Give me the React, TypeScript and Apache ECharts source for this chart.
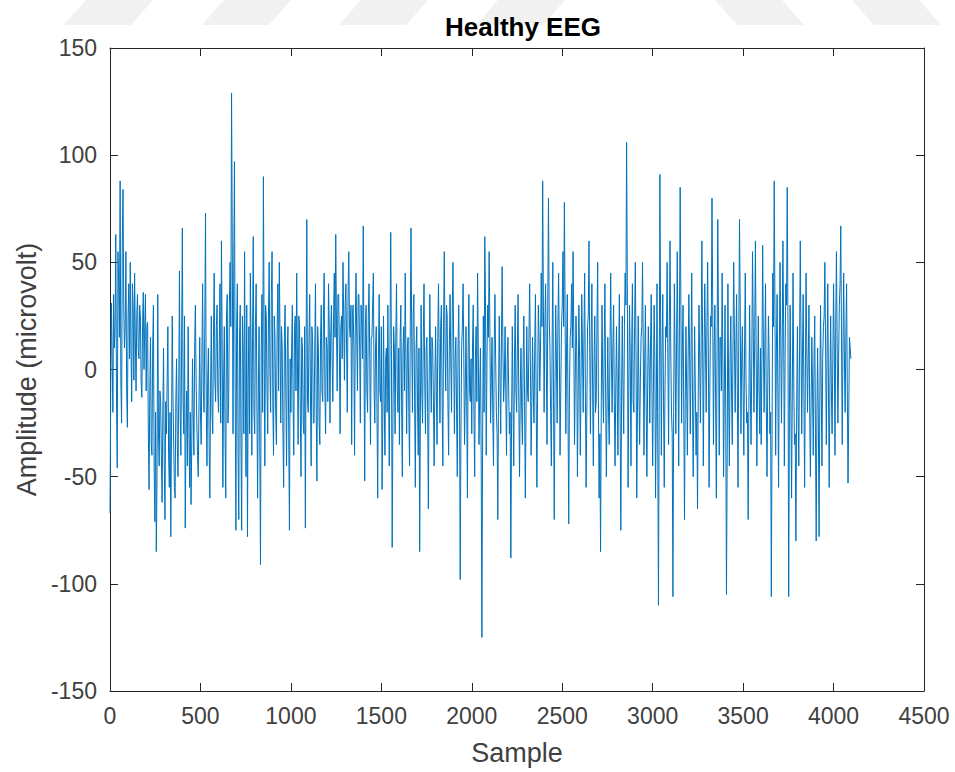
import React, { useEffect, useRef } from "react";
import * as echarts from "echarts";

const SAMPLE_STEP = 8;
const MID_OFFSET = 4;
const X_TICKS = [0, 500, 1000, 1500, 2000, 2500, 3000, 3500, 4000, 4500];
const Y_TICKS = [-150, -100, -50, 0, 50, 100, 150];

// Amplitude (microvolt) at samples 0, 8, 16, ...
const amplitude: number[] = [
  -67, 31, -20, 10, 63, -46, 40, 88, -25, 84, 10, 55, -27, 40, 50, -15, 30, 45, -10, 35, 5, 25, -13, 36, 20,
  -10, 22, -56, 15, -40, 30, -71, -85, 35, -45, -15, -62, 10, -70, -30, 20, -55, -78, 25, -35, -60, 5, -50, 46, -40,
  66, -30, -74, -10, 20, -55, -63, 5, -40, 30, -25, -50, 15, -35, 40, -20, 73, -45, 10, -60, 25, -30, 45, -15, 30,
  -20, 40, 60, -55, 20, -60, 35, -15, 50, 129, -30, 97, -75, 40, -70, 30, -75, 10, 55, -50, -78, 20, 45, -40, 62,
  -30, 40, -60, 20, -91, 35, 90, -45, 25, -30, 50, -20, 55, -40, 15, -35, 40, 50, -25, 10, -55, 30, -45, 20, -75,
  -20, 30, -40, 25, 45, -35, 20, -50, 10, -30, -74, 70, -20, 35, -45, 15, -25, 40, -52, 10, -35, 30, -15, 45, -30,
  10, 40, -25, 30, -15, 45, 63, -10, 35, -30, 25, 50, -5, 40, -20, 55, 15, -35, 30, -40, 45, -10, 35, -25, 20,
  67, -52, 30, -20, 40, -35, 15, 45, -25, 20, -60, 35, -15, -56, 25, -40, 10, 30, -45, 64, -83, 20, -30, 40, -20,
  -35, 30, -50, 20, 45, -30, 15, -45, 66, -20, 35, -55, 20, -40, -85, 30, -25, 40, -30, 15, -65, 35, -20, 10, -45,
  20, -35, 40, -25, 30, -45, 55, -10, 25, -40, 35, -20, 50, -30, 15, -50, 30, -98, 10, 40, -35, 20, -60, 35, -15,
  -30, 30, -50, 20, 45, -35, 10, -125, 25, 62, -40, 30, 55, -25, 15, -45, 35, -20, -70, 25, -30, 48, -15, 20, -40,
  15, -30, -88, 20, -45, 30, -20, 35, -50, 10, -35, 25, -60, 20, -15, 40, -40, 15, -25, 35, -55, 30, -10, 45, 88,
  -20, 40, -35, 80, 10, -45, 50, -70, 30, -25, 45, -40, 20, 55, 78, -30, 35, -72, 15, 40, 55, -35, 25, -50, 30,
  -40, 35, -20, 45, -55, 20, 60, -30, 40, -45, 25, -15, 50, -60, -85, 30, -25, 40, -50, 15, -35, 45, -20, 30, -45,
  20, -40, 35, -75, 25, -30, 45, 106, -55, 30, -45, 40, -20, 50, -60, 25, -35, 15, 50, -40, 30, -50, 20, -25, 35,
  -45, 30, -60, 40, -110, 91, -40, 35, -55, 20, 50, -35, 60, -20, -106, 40, -30, 55, -45, 85, -25, 30, -70, 20, -40,
  35, -30, 45, -50, 20, -40, -65, 30, -25, 60, -45, 40, -20, 50, -55, 25, 80, -35, 30, -60, 70, -40, 15, 45, -50,
  30, -105, 40, -45, 25, -35, 50, -20, 35, -55, 70, -30, 20, -40, 45, -25, -70, 30, -35, 55, -20, 60, -45, 25, -30,
  -35, 58, -20, 40, -50, 25, -30, -106, 45, 88, -40, 35, -55, 50, -25, 60, -45, 40, 85, -106, 30, -60, 45, -35, -80,
  20, -45, 60, -30, 35, -55, 45, -20, 30, -50, 15, -40, 25, -80, 10, -78, 30, -45, 20, 50, -35, 40, -55, 25, -30,
  40, -40, 55, -25, 30, 67, -35, 45, -20, 40, -53, 15, 5,
];

// Amplitude (microvolt) at samples 4, 12, 20, ... (the dense core between the spikes)
const amplitudeMid: number[] = [
  -10, 5, 35, 20, -15, 55, 15, -5, 60, 30, 20, -10, 25, 5, 10, 40, -5, 15, 25, 10, 30, -5, 20, 0, 35,
  20, -30, -10, -35, 10, -45, -20, -50, -30, -10, -40, -20, -45, -15, -5, -40, -20, -30, -10, -55, -15, -35, -10, -20, 15,
  -15, 25, -30, -45, -25, -20, -35, -20, 10, -5, -40, -15, -20, 5, -10, 20, -15, -5, -35, -10, -20, 15, -5, 20, -10,
  10, -25, 15, -5, -30, 25, -25, 30, 20, 60, 45, -10, 20, -40, 15, -35, 25, -30, -10, 30, -5, -30, 10, 15, -20,
  20, -15, -10, -35, 10, -20, 15, 30, -10, 25, 0, 35, -15, 25, -20, 20, -10, 15, 20, -30, 15, -10, 10, -30, 5,
  10, -15, 20, -10, 5, 25, -20, 15, -25, 20, 10, -15, 15, -10, 20, -25, 10, -20, 20, -25, 15, -10, 25, -10, 15,
  -15, 20, 15, 5, 25, 15, 20, 35, 10, 20, 5, 25, 30, 10, 35, 20, 30, 25, 10, 20, 15, 35, 10, 30, 5,
  10, 20, -10, 25, 5, 15, 30, -10, 10, -20, 5, -10, 20, -25, -15, 5, -20, -10, 15, 5, -25, 10, 15, -10, 10,
  15, -15, 10, -10, 5, 10, -20, 20, 15, 25, -15, 10, -15, 10, -20, -10, 15, -5, 10, -20, -10, 5, 15, -15, -5,
  -10, 15, 5, 20, -15, 20, 10, 30, -15, 10, 5, 25, 10, 5, -20, 10, -10, -30, 20, 5, -10, -15, 10, -10, 5,
  10, -20, 5, -15, 10, -10, -40, -30, -20, 30, 5, 15, 20, -5, -20, 10, 5, -30, -10, -5, 15, 10, -5, -10, 5,
  -10, -20, -25, -15, 5, -10, 10, -15, -10, -20, 5, -15, -20, -10, 15, 5, -15, -10, 10, -15, -10, 15, 10, 20, 30,
  20, 5, 30, 25, -20, 10, -15, -10, 5, 20, 10, -10, 30, 20, 25, 10, -20, -10, 20, 10, 15, -5, 10, -15, 5,
  -5, 10, 15, -10, -20, 25, 10, 15, -10, 5, -20, 20, -15, -30, -15, -5, 10, -10, -15, -20, 10, 5, 10, -15, -10,
  -10, 5, -20, -15, -10, 20, 30, 40, -10, 5, 10, -15, 20, 10, -20, -10, -5, 20, 10, 5, -15, -10, 5, 10, -10,
  -10, 5, -20, -30, -20, 20, 10, -15, -10, 15, 5, 20, 10, -30, -20, 5, 10, 5, 20, 30, 10, -20, -15, -10, 5,
  10, 5, -10, -15, -10, -20, -10, 5, 10, 15, 5, 10, 20, 5, -10, 20, 30, 10, -15, 10, 20, 15, -10, 5, -10,
  -20, -40, -10, 5, -10, 10, 15, 10, -10, 15, 30, 5, -10, 10, -5, -20, -15, -10, 5, 20, 15, 10, -5, -10, 10,
  5, 15, 10, -15, -10, 5, -20, -30, 20, 30, 10, -10, 5, 15, 10, 20, 5, 30, 20, -20, -15, -10, -5, -30, -20,
  -20, 10, 15, 5, -10, -5, 10, 5, -20, -15, -10, 5, -30, -20, -25, -15, -10, 5, 25, 10, 5, -10, -5, -10, 5,
  10, 20, 10, 5, 40, 15, 10, 5, 15, -10, -20, 10,
];

const AXIS_COLOR = "#262626";
const LABEL_COLOR = "#404040";
const FONT = "'Liberation Sans', Arial, Helvetica, sans-serif";

export default function App() {
  const ref = useRef<HTMLDivElement>(null);
  useEffect(() => {
    if (!ref.current) return;
    const chart = echarts.init(ref.current, undefined, { renderer: "svg" });
    const data: number[][] = [];
    amplitude.forEach((v, i) => {
      data.push([i * SAMPLE_STEP, v]);
      if (i < amplitudeMid.length) data.push([i * SAMPLE_STEP + MID_OFFSET, amplitudeMid[i]]);
    });
    const xMin = X_TICKS[0];
    const xMax = X_TICKS[X_TICKS.length - 1];
    const yMin = Y_TICKS[0];
    const yMax = Y_TICKS[Y_TICKS.length - 1];
    const axisCommon = {
      axisLine: { show: true, onZero: false, lineStyle: { color: AXIS_COLOR, width: 1 } },
      axisTick: { show: true, inside: true, length: 8, lineStyle: { color: AXIS_COLOR } },
      splitLine: { show: false },
    };
    const stripes = [[64, 131], [202, 269], [339, 406], [476, 543]];
    const stripesR = [[715, 782], [852, 919]];
    const graphics: any[] = [];
    stripes.forEach(([a, b]) => {
      graphics.push({
        type: "polygon",
        silent: true,
        z: -1,
        shape: { points: [[a, 25], [a + 22, 0], [b + 22, 0], [b, 25]] },
        style: { fill: "#f1f1f1" },
      });
    });
    stripesR.forEach(([a, b]) => {
      graphics.push({
        type: "polygon",
        silent: true,
        z: -1,
        shape: { points: [[a, 0], [a + 22, 25], [b + 22, 25], [b, 0]] },
        style: { fill: "#f1f1f1" },
      });
    });
    const fmt = (v: number) => String(v);
    chart.setOption({
      animation: false,
      backgroundColor: "#ffffff",
      graphic: graphics,
      title: {
        text: "Healthy EEG",
        left: 518,
        top: 9,
        textAlign: "center",
        textStyle: { fontFamily: FONT, fontSize: 26, fontWeight: "bold", color: "#000000" },
      },
      grid: { left: 110, right: 31, top: 48, bottom: 81, containLabel: false },
      xAxis: [
        {
          type: "value",
          min: xMin,
          max: xMax,
          interval: 500,
          name: "Sample",
          nameLocation: "middle",
          nameGap: 48,
          nameTextStyle: { fontFamily: FONT, fontSize: 27, color: LABEL_COLOR },
          axisLabel: { fontFamily: FONT, fontSize: 23, color: LABEL_COLOR, margin: 13, formatter: fmt },
          ...axisCommon,
        },
        {
          type: "value",
          position: "top",
          min: xMin,
          max: xMax,
          interval: 500,
          axisLabel: { show: false },
          ...axisCommon,
        },
      ],
      yAxis: [
        {
          type: "value",
          min: yMin,
          max: yMax,
          interval: 50,
          name: "Amplitude (microvolt)",
          nameLocation: "middle",
          nameGap: 70,
          nameTextStyle: { fontFamily: FONT, fontSize: 27, color: LABEL_COLOR },
          axisLabel: { fontFamily: FONT, fontSize: 23, color: LABEL_COLOR, margin: 13, formatter: fmt },
          ...axisCommon,
        },
        {
          type: "value",
          position: "right",
          min: yMin,
          max: yMax,
          interval: 50,
          axisLabel: { show: false },
          ...axisCommon,
        },
      ],
      series: [
        {
          type: "line",
          data,
          showSymbol: false,
          symbol: "none",
          lineStyle: { color: "#0072BD", width: 1 },
          itemStyle: { color: "#0072BD" },
          silent: true,
        },
      ],
    });
    return () => chart.dispose();
  }, []);
  return (
    <div
      ref={ref}
      style={{ position: "absolute", left: 0, top: 0, width: 955, height: 772, background: "#fff" }}
    />
  );
}
